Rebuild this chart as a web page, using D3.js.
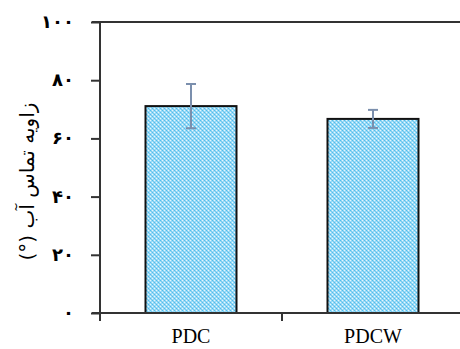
<!DOCTYPE html>
<html>
<head>
<meta charset="utf-8">
<script src="https://cdn.jsdelivr.net/npm/d3@7"></script>
<style>
  body { margin: 0; background: #fff; }
  svg { display: block; }
</style>
</head>
<body>
<div id="chart"></div>
<script>
// data
const categories = ["PDC", "PDCW"];
const means = [71.1, 66.7];
const errors = [7.6, 3.1];
const yTicks = [0, 20, 40, 60, 80, 100];
const yTickLabels = ["۰", "۲۰", "۴۰", "۶۰", "۸۰", "۱۰۰"];
const yTitle = "زاویه تماس آب (°)";

const width = 460, height = 349;
const plotLeft = 100, plotRight = 464, plotTop = 22, plotBottom = 313;

const svg = d3.select("#chart").append("svg")
  .attr("width", width)
  .attr("height", height);

// dithered light blue fill
const defs = svg.append("defs");
const pat = defs.append("pattern")
  .attr("id", "dots")
  .attr("width", 4).attr("height", 4)
  .attr("patternUnits", "userSpaceOnUse");
pat.append("rect").attr("width", 4).attr("height", 4).attr("fill", "#9cdaf6");
pat.append("rect").attr("x", 0).attr("y", 0).attr("width", 1).attr("height", 1).attr("fill", "#4fbdec");
pat.append("rect").attr("x", 2).attr("y", 2).attr("width", 1).attr("height", 1).attr("fill", "#4fbdec");
pat.append("rect").attr("x", 2).attr("y", 0).attr("width", 1).attr("height", 1).attr("fill", "#e6f6fd");
pat.append("rect").attr("x", 0).attr("y", 2).attr("width", 1).attr("height", 1).attr("fill", "#e6f6fd");
pat.append("rect").attr("x", 1).attr("y", 1).attr("width", 1).attr("height", 1).attr("fill", "#72cbf1");
pat.append("rect").attr("x", 3).attr("y", 3).attr("width", 1).attr("height", 1).attr("fill", "#72cbf1");

const x = d3.scaleBand()
  .domain(categories)
  .range([plotLeft, plotRight])
  .paddingInner(0)
  .paddingOuter(0);

const y = d3.scaleLinear()
  .domain([0, 100])
  .range([plotBottom, plotTop]);

// top frame line
svg.append("line")
  .attr("x1", 92).attr("x2", width)
  .attr("y1", y(100)).attr("y2", y(100))
  .attr("stroke", "#333").attr("stroke-width", 2);

// y axis
const yAxis = svg.append("g")
  .attr("transform", `translate(${plotLeft},0)`)
  .call(d3.axisLeft(y).tickValues(yTicks).tickSize(9).tickSizeOuter(0)
    .tickFormat((d, i) => yTickLabels[i]));
yAxis.select(".domain").attr("stroke", "#333").attr("stroke-width", 2)
  .attr("d", `M0,${plotTop}V${plotBottom + 8}`);
yAxis.selectAll(".tick line").attr("stroke", "#333").attr("stroke-width", 2);
yAxis.selectAll(".tick text")
  .attr("x", -26)
  .attr("dy", "0.3em")
  .attr("font-family", "DejaVu Sans")
  .attr("font-weight", "bold")
  .attr("font-size", 18)
  .attr("fill", "#000");

// bars
svg.selectAll(".bar")
  .data(categories)
  .enter()
  .append("rect")
  .attr("class", "bar")
  .attr("x", (d) => x(d) + x.bandwidth() * 0.25)
  .attr("y", (d, i) => y(means[i]))
  .attr("width", x.bandwidth() * 0.5)
  .attr("height", (d, i) => y(0) - y(means[i]))
  .attr("fill", "url(#dots)")
  .attr("stroke", "#111")
  .attr("stroke-width", 2);

// error bars
const eb = svg.selectAll(".err")
  .data(categories)
  .enter()
  .append("g")
  .attr("class", "err")
  .attr("stroke", "#7b8fad")
  .attr("stroke-width", 2);
eb.append("line")
  .attr("x1", (d) => x(d) + x.bandwidth() / 2)
  .attr("x2", (d) => x(d) + x.bandwidth() / 2)
  .attr("y1", (d, i) => y(means[i] + errors[i]))
  .attr("y2", (d, i) => y(means[i] - errors[i]));
eb.append("line")
  .attr("x1", (d) => x(d) + x.bandwidth() / 2 - 5)
  .attr("x2", (d) => x(d) + x.bandwidth() / 2 + 5)
  .attr("y1", (d, i) => y(means[i] + errors[i]))
  .attr("y2", (d, i) => y(means[i] + errors[i]));
eb.append("line")
  .attr("x1", (d) => x(d) + x.bandwidth() / 2 - 5)
  .attr("x2", (d) => x(d) + x.bandwidth() / 2 + 5)
  .attr("y1", (d, i) => y(means[i] - errors[i]))
  .attr("y2", (d, i) => y(means[i] - errors[i]));

// x axis
const xAxis = svg.append("g")
  .attr("transform", `translate(0,${plotBottom})`)
  .call(d3.axisBottom(x).tickSize(0).tickSizeOuter(0));
xAxis.select(".domain").attr("stroke", "#333").attr("stroke-width", 2)
  .attr("d", `M92,0H${width}`);
xAxis.selectAll(".tick text")
  .attr("y", 30)
  .attr("dy", 0)
  .attr("font-family", "Liberation Serif")
  .attr("font-size", 20)
  .attr("fill", "#000");
// separator tick between categories
xAxis.append("line")
  .attr("x1", x(categories[1])).attr("x2", x(categories[1]))
  .attr("y1", 0).attr("y2", 8)
  .attr("stroke", "#333").attr("stroke-width", 2);

// y title
svg.append("text")
  .attr("transform", `translate(34,${(plotTop + plotBottom) / 2 + 14}) rotate(-90)`)
  .attr("text-anchor", "middle")
  .attr("direction", "rtl")
  .attr("font-family", "DejaVu Sans")
  .attr("font-size", 20)
  .attr("fill", "#000")
  .text(yTitle);
</script>
</body>
</html>
